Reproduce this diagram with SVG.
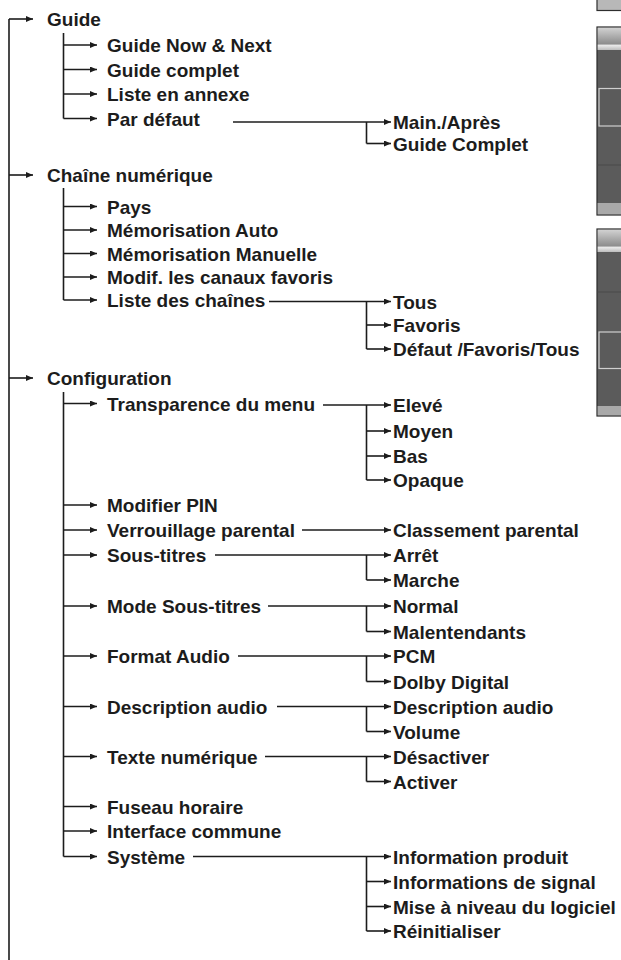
<svg xmlns="http://www.w3.org/2000/svg" width="621" height="960" viewBox="0 0 621 960">
<style>
.t{font-family:"Liberation Sans",Arial,sans-serif;font-weight:bold;font-size:19px;fill:#1c1c1c}
.c{fill:none;stroke:#1c1c1c;stroke-width:1.6}
.a{marker-end:url(#ah)}
</style>
<defs>
<marker id="ah" markerUnits="userSpaceOnUse" markerWidth="8" markerHeight="7" refX="7" refY="3" orient="auto">
<path d="M0,0 L7,3 L0,6 z" fill="#1c1c1c"/>
</marker>
<linearGradient id="hdr" x1="0" y1="0" x2="0" y2="1">
<stop offset="0" stop-color="#d2d2d2"/>
<stop offset="0.5" stop-color="#a2a2a2"/>
<stop offset="0.72" stop-color="#8e8e8e"/>
<stop offset="0.8" stop-color="#e8e8e8"/>
<stop offset="1" stop-color="#bcbcbc"/>
</linearGradient>
</defs>
<rect width="621" height="960" fill="#ffffff"/>

<g id="side-panels">
<rect x="597" y="-2" width="26" height="12.5" fill="#b8b8b8" stroke="#2e2e2e" stroke-width="1.2"/>
<rect x="597" y="27" width="26" height="188" fill="#5b5b5b" stroke="#2a2a2a" stroke-width="1.2"/>
<rect x="597.6" y="27.6" width="25" height="22.4" fill="url(#hdr)"/>
<line x1="597.6" y1="165" x2="621" y2="165" stroke="#4a4a4a" stroke-width="1"/>
<rect x="599" y="88.5" width="24" height="37.5" fill="none" stroke="#cfcfcf" stroke-width="1.2"/>
<rect x="597.6" y="203" width="25" height="11.4" fill="#a9a9a9"/>
<rect x="597" y="229" width="26" height="187" fill="#5b5b5b" stroke="#2a2a2a" stroke-width="1.2"/>
<rect x="597.6" y="229.6" width="25" height="22.4" fill="url(#hdr)"/>
<line x1="597.6" y1="292" x2="621" y2="292" stroke="#4a4a4a" stroke-width="1"/>
<rect x="599" y="332" width="24" height="36.5" fill="none" stroke="#cfcfcf" stroke-width="1.2"/>
<rect x="597.6" y="406" width="25" height="9.4" fill="#a9a9a9"/>
</g>

<g id="connectors">
<path class="c" d="M9,19 V960"/>
<path class="c a" d="M9,19 H33"/>
<path class="c a" d="M9,175 H33"/>
<path class="c a" d="M9,378 H33"/>

<path class="c" d="M63.5,33 V118.5"/>
<path class="c a" d="M63.5,45 H97"/>
<path class="c a" d="M63.5,69.5 H97"/>
<path class="c a" d="M63.5,94 H97"/>
<path class="c a" d="M63.5,118.5 H97"/>

<path class="c" d="M63.5,188 V300"/>
<path class="c a" d="M63.5,206.5 H97"/>
<path class="c a" d="M63.5,230 H97"/>
<path class="c a" d="M63.5,253.5 H97"/>
<path class="c a" d="M63.5,277 H97"/>
<path class="c a" d="M63.5,300 H97"/>

<path class="c" d="M63.5,392 V856.5"/>
<path class="c a" d="M63.5,403.5 H97"/>
<path class="c a" d="M63.5,505 H97"/>
<path class="c a" d="M63.5,530 H97"/>
<path class="c a" d="M63.5,555 H97"/>
<path class="c a" d="M63.5,606 H97"/>
<path class="c a" d="M63.5,656 H97"/>
<path class="c a" d="M63.5,706.5 H97"/>
<path class="c a" d="M63.5,756.5 H97"/>
<path class="c a" d="M63.5,806.5 H97"/>
<path class="c a" d="M63.5,831 H97"/>
<path class="c a" d="M63.5,856.5 H97"/>

<path class="c a" d="M233,122 H391"/>
<path class="c" d="M366.5,122 V143.5"/>
<path class="c a" d="M366.5,143.5 H391"/>

<path class="c a" d="M269,301.5 H391"/>
<path class="c" d="M366.5,301.5 V349"/>
<path class="c a" d="M366.5,325 H391"/>
<path class="c a" d="M366.5,349 H391"/>

<path class="c a" d="M323,405 H391"/>
<path class="c" d="M366.5,405 V480"/>
<path class="c a" d="M366.5,431 H391"/>
<path class="c a" d="M366.5,456 H391"/>
<path class="c a" d="M366.5,480 H391"/>

<path class="c a" d="M302,530 H391"/>

<path class="c a" d="M215,555 H391"/>
<path class="c" d="M366.5,555 V580"/>
<path class="c a" d="M366.5,580 H391"/>

<path class="c a" d="M268,606 H391"/>
<path class="c" d="M366.5,606 V631.5"/>
<path class="c a" d="M366.5,631.5 H391"/>

<path class="c a" d="M238,656 H391"/>
<path class="c" d="M366.5,656 V681.5"/>
<path class="c a" d="M366.5,681.5 H391"/>

<path class="c a" d="M277,706.5 H391"/>
<path class="c" d="M366.5,706.5 V731.5"/>
<path class="c a" d="M366.5,731.5 H391"/>

<path class="c a" d="M265,756.5 H391"/>
<path class="c" d="M366.5,756.5 V781.5"/>
<path class="c a" d="M366.5,781.5 H391"/>

<path class="c a" d="M193,856.5 H391"/>
<path class="c" d="M366.5,856.5 V931"/>
<path class="c a" d="M366.5,881.5 H391"/>
<path class="c a" d="M366.5,906.5 H391"/>
<path class="c a" d="M366.5,931 H391"/>
</g>

<g id="n-guide"><text class="t" x="47" y="26">Guide</text></g>
<g id="n-guide-now-next"><text class="t" x="107" y="52">Guide Now &amp; Next</text></g>
<g id="n-guide-complet"><text class="t" x="107" y="76.5">Guide complet</text></g>
<g id="n-liste-annexe"><text class="t" x="107" y="101">Liste en annexe</text></g>
<g id="n-par-defaut"><text class="t" x="107" y="125.5">Par défaut</text></g>
<g id="n-main-apres"><text class="t" x="393" y="129">Main./Après</text></g>
<g id="n-guide-complet2"><text class="t" x="393" y="150.5">Guide Complet</text></g>

<g id="n-chaine"><text class="t" x="47" y="182">Chaîne numérique</text></g>
<g id="n-pays"><text class="t" x="107" y="213.5">Pays</text></g>
<g id="n-mem-auto"><text class="t" x="107" y="237">Mémorisation Auto</text></g>
<g id="n-mem-manuelle"><text class="t" x="107" y="260.5">Mémorisation Manuelle</text></g>
<g id="n-modif"><text class="t" x="107" y="284">Modif. les canaux favoris</text></g>
<g id="n-liste-chaines"><text class="t" x="107" y="307">Liste des chaînes</text></g>
<g id="n-tous"><text class="t" x="393" y="308.5">Tous</text></g>
<g id="n-favoris"><text class="t" x="393" y="332">Favoris</text></g>
<g id="n-defaut-fav"><text class="t" x="393" y="356">Défaut /Favoris/Tous</text></g>

<g id="n-config"><text class="t" x="47" y="385">Configuration</text></g>
<g id="n-transparence"><text class="t" x="107" y="410.5">Transparence du menu</text></g>
<g id="n-eleve"><text class="t" x="393" y="412">Elevé</text></g>
<g id="n-moyen"><text class="t" x="393" y="438">Moyen</text></g>
<g id="n-bas"><text class="t" x="393" y="463">Bas</text></g>
<g id="n-opaque"><text class="t" x="393" y="487">Opaque</text></g>
<g id="n-pin"><text class="t" x="107" y="512">Modifier PIN</text></g>
<g id="n-verrou"><text class="t" x="107" y="537">Verrouillage parental</text></g>
<g id="n-classement"><text class="t" x="393" y="537">Classement parental</text></g>
<g id="n-sous-titres"><text class="t" x="107" y="562">Sous-titres</text></g>
<g id="n-arret"><text class="t" x="393" y="562">Arrêt</text></g>
<g id="n-marche"><text class="t" x="393" y="587">Marche</text></g>
<g id="n-mode-st"><text class="t" x="107" y="613">Mode Sous-titres</text></g>
<g id="n-normal"><text class="t" x="393" y="613">Normal</text></g>
<g id="n-malent"><text class="t" x="393" y="638.5">Malentendants</text></g>
<g id="n-format"><text class="t" x="107" y="663">Format Audio</text></g>
<g id="n-pcm"><text class="t" x="393" y="663">PCM</text></g>
<g id="n-dolby"><text class="t" x="393" y="688.5">Dolby Digital</text></g>
<g id="n-desc"><text class="t" x="107" y="713.5">Description audio</text></g>
<g id="n-desc2"><text class="t" x="393" y="713.5">Description audio</text></g>
<g id="n-volume"><text class="t" x="393" y="738.5">Volume</text></g>
<g id="n-texte"><text class="t" x="107" y="763.5">Texte numérique</text></g>
<g id="n-desactiver"><text class="t" x="393" y="763.5">Désactiver</text></g>
<g id="n-activer"><text class="t" x="393" y="788.5">Activer</text></g>
<g id="n-fuseau"><text class="t" x="107" y="813.5">Fuseau horaire</text></g>
<g id="n-interface"><text class="t" x="107" y="838">Interface commune</text></g>
<g id="n-systeme"><text class="t" x="107" y="863.5">Système</text></g>
<g id="n-info-produit"><text class="t" x="393" y="863.5">Information produit</text></g>
<g id="n-info-signal"><text class="t" x="393" y="888.5">Informations de signal</text></g>
<g id="n-mise-niveau"><text class="t" x="393" y="913.5">Mise à niveau du logiciel</text></g>
<g id="n-reinit"><text class="t" x="393" y="938">Réinitialiser</text></g>
</svg>
